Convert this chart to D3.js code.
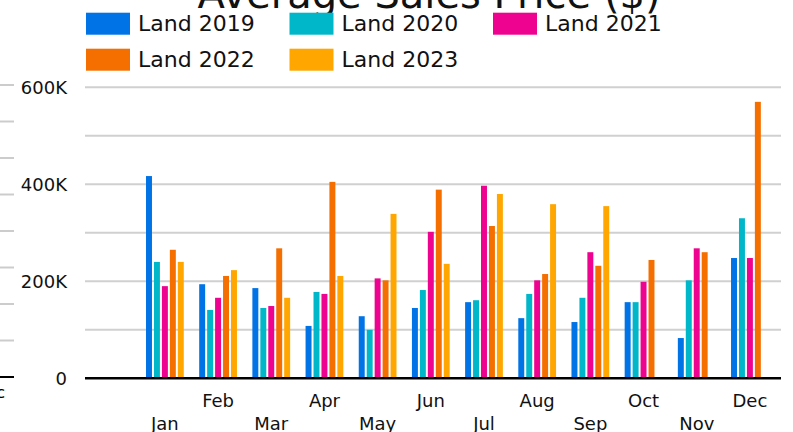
<!DOCTYPE html>
<html>
<head>
<meta charset="utf-8">
<script src="https://cdn.jsdelivr.net/npm/d3@7"></script>
<style>
  body { margin: 0; background: #fff; }
  svg { display: block; font-family: "DejaVu Sans", Verdana, sans-serif; }
</style>
</head>
<body>
<div class="visHolder"></div>
<script>
// values, in dollars
var months = ["Jan", "Feb", "Mar", "Apr", "May", "Jun", "Jul", "Aug", "Sep", "Oct", "Nov", "Dec"];
var seriesNames = ["Land 2019", "Land 2020", "Land 2021", "Land 2022", "Land 2023"];
var seriesColors = ["#0073e6", "#00b6c9", "#ee0290", "#f46f00", "#ffa600"];
var land2019 = [417000, 194000, 186000, 108000, 128000, 145000, 157000, 124000, 116000, 157000, 83000, 248000];
var land2020 = [240000, 141000, 145000, 178000, 100000, 182000, 161000, 174000, 166000, 157000, 202000, 330000];
var land2021 = [190000, 166000, 149000, 174000, 206000, 302000, 397000, 202000, 260000, 199000, 268000, 248000];
var land2022 = [265000, 211000, 268000, 405000, 202000, 389000, 314000, 215000, 232000, 244000, 260000, 570000];
var land2023 = [240000, 223000, 166000, 211000, 339000, 236000, 380000, 359000, 355000, null, null, null];
var yTicks = [0, 200000, 400000, 600000];
var gridTicks = [100000, 200000, 300000, 400000, 500000, 600000];

var width = 793,
  height = 432;
var plotLeft = 85,
  plotRight = 781;

var allSeries = [land2019, land2020, land2021, land2022, land2023];

var svg = d3
  .select(".visHolder")
  .append("svg")
  .attr("width", width)
  .attr("height", height);

var yScale = d3.scaleLinear().domain([0, 600000]).range([378.3, 87.3]);

var xScale = d3
  .scaleBand()
  .domain(months)
  .range([138.3, 776.5])
  .paddingInner(0.29)
  .paddingOuter(0.145);

var xSub = d3
  .scaleBand()
  .domain(seriesNames)
  .range([0, xScale.bandwidth()])
  .paddingInner(0.25);

// leftover axis of the chart next door, clipped at the left edge
var ghostScale = d3.scaleLinear().domain([0, 8]).range([377, 85]);
svg
  .append("g")
  .selectAll("line")
  .data(d3.range(1, 9))
  .enter()
  .append("line")
  .attr("x1", 0)
  .attr("x2", 14)
  .attr("y1", (d) => ghostScale(d))
  .attr("y2", (d) => ghostScale(d))
  .attr("stroke", "#cccccc")
  .attr("stroke-width", 2);
svg
  .append("line")
  .attr("x1", 0)
  .attr("x2", 14)
  .attr("y1", ghostScale(0))
  .attr("y2", ghostScale(0))
  .attr("stroke", "#000")
  .attr("stroke-width", 2);
svg
  .append("text")
  .attr("x", 5)
  .attr("y", 398)
  .attr("text-anchor", "end")
  .style("font-size", "16px")
  .text("Dec");

// gridlines
svg
  .append("g")
  .selectAll("line")
  .data(gridTicks)
  .enter()
  .append("line")
  .attr("x1", plotLeft)
  .attr("x2", plotRight)
  .attr("y1", (d) => yScale(d))
  .attr("y2", (d) => yScale(d))
  .attr("stroke", "#d0d0d0")
  .attr("stroke-width", 2);

// y axis labels
var yAxis = d3
  .axisLeft(yScale)
  .tickValues(yTicks)
  .tickSize(0)
  .tickPadding(18)
  .tickFormat((d) => (d === 0 ? "0" : d / 1000 + "K"));
var yG = svg
  .append("g")
  .attr("id", "y-axis")
  .attr("transform", "translate(" + plotLeft + ",0)")
  .call(yAxis);
yG.select(".domain").remove();
yG.selectAll("text")
  .style("font-size", "18px")
  .style("font-family", "DejaVu Sans")
  .attr("fill", "#111");

// bars
var groups = svg
  .append("g")
  .selectAll("g")
  .data(months)
  .enter()
  .append("g")
  .attr("transform", (d) => "translate(" + xScale(d) + ",0)");

groups
  .selectAll("rect")
  .data((m, i) =>
    seriesNames.map(function (s, j) {
      return { series: s, color: seriesColors[j], value: allSeries[j][i] };
    }).filter((d) => d.value !== null)
  )
  .enter()
  .append("rect")
  .attr("class", "bar")
  .attr("x", (d) => xSub(d.series))
  .attr("y", (d) => yScale(d.value))
  .attr("width", xSub.bandwidth())
  .attr("height", (d) => yScale(0) - yScale(d.value))
  .style("fill", (d) => d.color);

// baseline
svg
  .append("line")
  .attr("x1", plotLeft)
  .attr("x2", plotRight)
  .attr("y1", yScale(0))
  .attr("y2", yScale(0))
  .attr("stroke", "#000")
  .attr("stroke-width", 2.5);

// x axis, labels staggered on two rows
var xAxis = d3.axisBottom(xScale).tickSize(0).tickPadding(0);
var xG = svg
  .append("g")
  .attr("id", "x-axis")
  .attr("transform", "translate(0," + yScale(0) + ")")
  .call(xAxis);
xG.select(".domain").remove();
xG.selectAll("text")
  .style("font-size", "18px")
  .style("font-family", "DejaVu Sans")
  .attr("fill", "#111")
  .attr("dy", null)
  .attr("y", (d, i) => (i % 2 === 0 ? 52 : 29));

// title, cut off by the top edge
svg
  .append("text")
  .attr("x", 429)
  .attr("y", 7.5)
  .attr("text-anchor", "middle")
  .style("font-size", "40px")
  .attr("fill", "#111")
  .text("Average Sales Price ($)");

// legend
var legend = svg
  .append("g")
  .selectAll("g")
  .data(seriesNames)
  .enter()
  .append("g")
  .attr("transform", (d, i) => "translate(" + (86 + (i % 3) * 203.5) + "," + (12.7 + Math.floor(i / 3) * 36) + ")");
legend
  .append("rect")
  .attr("width", 44)
  .attr("height", 22)
  .style("fill", (d, i) => seriesColors[i]);
legend
  .append("text")
  .attr("x", 52)
  .attr("y", 18.5)
  .style("font-size", "22px")
  .attr("fill", "#111")
  .text((d) => d);
</script>
</body>
</html>
